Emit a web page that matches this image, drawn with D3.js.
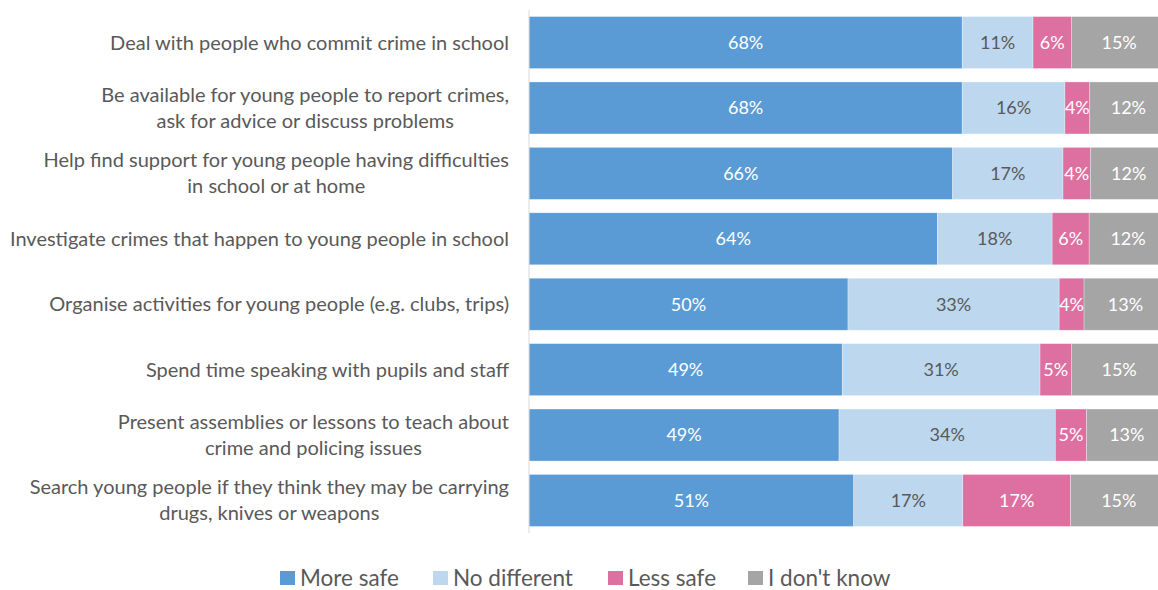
<!DOCTYPE html>
<html>
<head>
<meta charset="utf-8">
<script src="https://cdnjs.cloudflare.com/ajax/libs/d3/7.8.5/d3.min.js"></script>
<style>
  body { margin: 0; background: #fff; }
  text { font-family: Lato, "Open Sans", sans-serif; }
</style>
</head>
<body>
<svg width="1158" height="590"></svg>
<script>
/* Stacked bar chart - safety of police in school */

var categories = [
    ["Deal with people who commit crime in school"],
    ["Be available for young people to report crimes,", "ask for advice or discuss problems"],
    ["Help find support for young people having difficulties", "in school or at home"],
    ["Investigate crimes that happen to young people in school"],
    ["Organise activities for young people (e.g. clubs, trips)"],
    ["Spend time speaking with pupils and staff"],
    ["Present assemblies or lessons to teach about", "crime and policing issues"],
    ["Search young people if they think they may be carrying", "drugs, knives or weapons"]
];

var series = ["More safe", "No different", "Less safe", "I don't know"];

var moreSafe    = [67.9, 67.9, 66.4, 64.0, 50.0, 49.1, 48.6, 50.9];
var noDifferent = [11.1, 16.1, 17.3, 18.0, 33.1, 31.0, 33.9, 17.1];
var lessSafe    = [6.0, 3.9, 4.3, 5.8, 3.9, 4.9, 4.9, 16.9];
var dontKnow    = [15.0, 12.1, 12.0, 12.2, 13.0, 15.0, 12.6, 15.1];

var colors = ["#5b9bd5", "#bdd7ee", "#de6fa1", "#a5a5a5"];
var labelColors = ["#ffffff", "#595959", "#ffffff", "#ffffff"];

var svg = d3.select("svg");

var rows = categories.map(function (c, i) {
    return { id: i, "More safe": moreSafe[i], "No different": noDifferent[i], "Less safe": lessSafe[i], "I don't know": dontKnow[i] };
});

var stack = d3.stack().keys(series);
var stacked = stack(rows);

var x = d3.scaleLinear().domain([0, 100]).range([529, 1167]);
var y = d3.scaleBand().domain(d3.range(categories.length)).range([10, 533]).paddingInner(0.205).paddingOuter(0.1);

var layer = svg.append("g")
    .selectAll("g")
    .data(stacked)
    .enter().append("g")
    .attr("fill", function (d, i) { return colors[i]; });

layer.selectAll("rect")
    .data(function (d) { return d; })
    .enter().append("rect")
    .attr("x", function (d) { return x(d[0]); })
    .attr("y", function (d, i) { return y(i); })
    .attr("width", function (d) { return x(d[1]) - x(d[0]); })
    .attr("height", y.bandwidth())
    .attr("stroke", "#ffffff")
    .attr("stroke-opacity", 0.5)
    .attr("stroke-width", 0.6);

layer.each(function (s, si) {
    d3.select(this).selectAll("text")
        .data(s)
        .enter().append("text")
        .attr("x", function (d) { return (x(d[0]) + x(d[1])) / 2; })
        .attr("y", function (d, i) { return y(i) + y.bandwidth() / 2; })
        .attr("dy", "0.35em")
        .attr("text-anchor", "middle")
        .attr("font-size", 18)
        .attr("fill", labelColors[si])
        .text(function (d) { return Math.round(d[1] - d[0]) + "%"; });
});

// y axis line, no ticks
var yAxis = d3.axisLeft(y).tickSize(0).tickFormat("");
svg.append("g")
    .attr("transform", "translate(529,0)")
    .call(yAxis)
    .call(function (g) { g.select(".domain").attr("stroke", "#d9d9d9").attr("d", "M0,10V533"); });

// category labels: lines centred on each other, block right aligned
var catG = svg.append("g");
categories.forEach(function (lines, i) {
    var t = catG.append("text")
        .attr("font-size", 20)
        .attr("fill", "#595959")
        .attr("text-anchor", "middle");
    var cy = y(i) + y.bandwidth() / 2;
    var lh = 26;
    lines.forEach(function (l, j) {
        t.append("tspan")
            .attr("y", cy + (j - (lines.length - 1) / 2) * lh)
            .attr("dy", "0.35em")
            .text(l);
    });
    var maxW = d3.max(t.selectAll("tspan").nodes(), function (n) { return n.getComputedTextLength(); });
    t.selectAll("tspan").attr("x", 509 - maxW / 2);
});

// legend
var legendX = [280, 433, 608, 748];
var legend = svg.append("g")
    .selectAll("g")
    .data(series)
    .enter().append("g")
    .attr("transform", function (d, i) { return "translate(" + legendX[i] + ",578)"; });

legend.append("rect")
    .attr("x", 0)
    .attr("y", -7)
    .attr("width", 15)
    .attr("height", 14)
    .attr("fill", function (d, i) { return colors[i]; });

legend.append("text")
    .attr("x", 20)
    .attr("dy", "0.35em")
    .attr("font-size", 22.5)
    .attr("fill", "#595959")
    .text(function (d) { return d; });
</script>
</body>
</html>
